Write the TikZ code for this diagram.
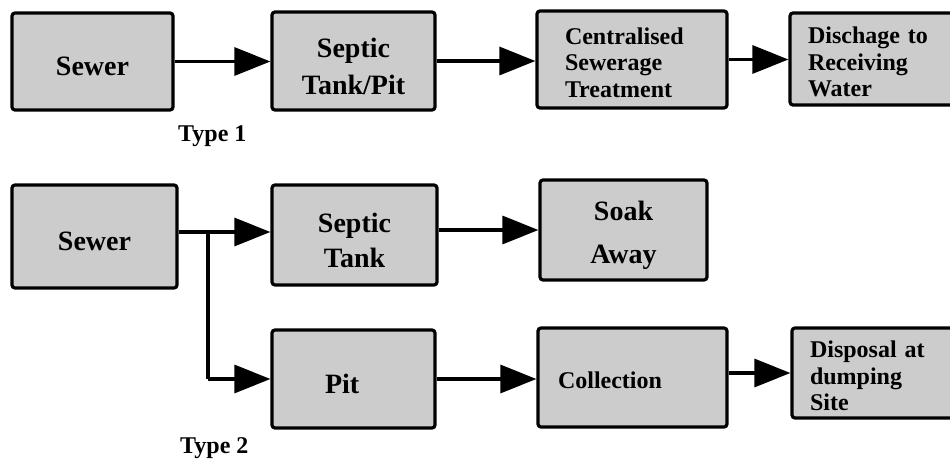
\documentclass[tikz,border=0pt]{standalone}
\usepackage{fontspec}
\setmainfont{Liberation Serif}
\usetikzlibrary{arrows.meta}
\definecolor{boxgray}{RGB}{204,204,204}
\tikzset{
  box/.style={draw=black, line width=3.2pt, rounded corners=3pt, fill=boxgray, inner sep=0pt},
  bigtext/.style={font=\bfseries\fontsize{28}{37}\selectfont, align=center, inner sep=0pt, yshift=-5pt},
  smalltext/.style={font=\bfseries\fontsize{24}{26.5}\selectfont, align=left, inner sep=0pt, yshift=-3pt},
  flow/.style={line width=3.2pt, -{Triangle[length=36pt,width=28pt]}},
  pipe/.style={line width=3.2pt},
  typelabel/.style={font=\bfseries\fontsize{24}{26}\selectfont, anchor=base west, inner sep=0pt}
}
\begin{document}
\begin{tikzpicture}[x=1pt, y=-1pt]
\useasboundingbox (0,0) rectangle (950,473);

% ---- Type 1 chain: boxes ----
\node[box, minimum width=161pt, minimum height=97pt] (s1) at (92.5,61.5) {};
\node[box, minimum width=163pt, minimum height=98pt] (t1) at (353.5,61) {};
\node[box, minimum width=190pt, minimum height=97pt] (c1) at (632,59.5) {};
\node[box, minimum width=175pt, minimum height=92pt] (d1) at (877.5,59) {};
% ---- Type 1 chain: texts ----
\node[bigtext] (s1t) at (s1.center) {Sewer};
\node[bigtext] (t1t) at (t1.center) {Septic\\Tank/Pit};
\node[smalltext, text width=134pt] (c1t) at (c1.center) {Centralised\\Sewerage\\Treatment};
\node[smalltext, text width=139pt] (d1t) at (d1.center) {Dischage to\\Receiving\\Water};

\draw[flow] (s1.east) -- (s1.east -| t1.west);
\draw[flow] (t1.east) -- (t1.east -| c1.west);
\draw[flow] (c1.east) -- (c1.east -| d1.west);

\node[typelabel] (type1) at (178,142) {Type 1};

% ---- Type 2 chain: boxes ----
\node[box, minimum width=165pt, minimum height=103pt] (s2) at (94.5,236.5) {};
\node[box, minimum width=165pt, minimum height=100pt] (t2) at (354.5,235) {};
\node[box, minimum width=167pt, minimum height=100pt] (a2) at (623.5,230) {};
\node[box, minimum width=163pt, minimum height=98pt] (p2) at (353.5,379) {};
\node[box, minimum width=189pt, minimum height=99pt] (c2) at (632.5,377.5) {};
\node[box, minimum width=173pt, minimum height=90pt] (d2) at (878.5,373) {};
% ---- Type 2 chain: texts ----
\node[bigtext] (s2t) at (s2.center) {Sewer};
\node[bigtext, font=\bfseries\fontsize{28}{35}\selectfont] (t2t) at (t2.center) {Septic\\Tank};
\node[bigtext, font=\bfseries\fontsize{28}{43}\selectfont] (a2t) at (a2.center) {Soak\\Away};
\node[bigtext, text width=57pt, align=left] (p2t) at (p2.center) {Pit};
\node[smalltext, text width=149pt] (c2t) at (c2.center) {Collection};
\node[smalltext, text width=137pt] (d2t) at (d2.center) {Disposal at\\dumping\\Site};

% ---- Type 2 connectors ----
\coordinate (j) at (208,232);
\draw[pipe] (s2.east |- j) -- (j);
\draw[flow] (j) -- (j -| t2.west);
\draw[pipe] (j) -- (j |- p2.west);
\draw[flow] (j |- p2.west) -- (p2.west);
\draw[flow] (a2.west -| t2.east) -- (a2.west);
\draw[flow] (p2.east) -- (p2.east -| c2.west);
\draw[flow] (d2.west -| c2.east) -- (d2.west);

\node[typelabel] (type2) at (180,453) {Type 2};
\end{tikzpicture}
\end{document}
